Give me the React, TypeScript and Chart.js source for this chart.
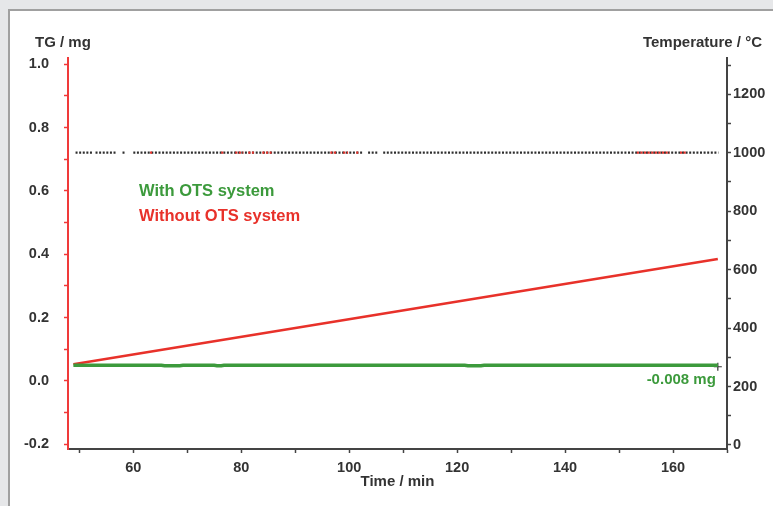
import React, { useEffect, useRef } from "react";
import { Chart, registerables } from "chart.js";

Chart.register(...registerables);

// Axis ranges
const timeMin = 47.9;
const timeMax = 170;
const tgMin = -0.2148;
const tgMax = 1.02;
const tempMin = -13.7;
const tempMax = 1324;

// Tick values
const tgTicks = [-0.2, -0.1, 0, 0.1, 0.2, 0.3, 0.4, 0.5, 0.6, 0.7, 0.8, 0.9, 1.0];
const tempTicks = [0, 100, 200, 300, 400, 500, 600, 700, 800, 900, 1000, 1100, 1200, 1300];
const timeTicks = [50, 60, 70, 80, 90, 100, 110, 120, 130, 140, 150, 160, 170];

// "Without OTS system" TG curve (mg)
const redTime = [48.9, 168.3];
const redTG = [0.0527, 0.385];

// "With OTS system" TG curve (mg)
const greenTime = [48.9, 65.2, 65.8, 68.6, 69.2, 75.0, 75.5, 76.3, 76.8, 121.4, 122.0, 124.4, 125.0, 168.3];
const greenTG = [0.0496, 0.0496, 0.0478, 0.0478, 0.0496, 0.0496, 0.048, 0.048, 0.0496, 0.0496, 0.0479, 0.0479, 0.0496, 0.0496];

// End marker of the green curve
const endMarkerTime = [168.3];
const endMarkerTG = [0.045];

// Temperature plateau (dotted) segments, °C level and time spans in min
const plateauTemp = 1000;
const blackDotSegments = [
  [49.3, 52.6],
  [53.0, 57.0],
  [58.0, 58.4],
  [60.0, 102.4],
  [103.5, 105.2],
  [106.3, 168.4],
];
const redDotSegments = [
  [63.1, 63.5],
  [76.3, 76.7],
  [78.9, 80.4],
  [81.3, 82.6],
  [83.9, 85.7],
  [96.5, 97.8],
  [98.9, 99.8],
  [101.3, 101.7],
  [153.3, 159.4],
  [161.3, 162.6],
];

const FONT = '"Liberation Sans", Arial, Helvetica, sans-serif';
const TEXT = "#333333";
const RED = "#e8312a";
const GREEN = "#3c9a3c";

function segmentsToData(segs: number[][], level: number) {
  const out: { x: number; y: number | null }[] = [];
  segs.forEach(([s, e]) => {
    out.push({ x: s, y: level });
    out.push({ x: e, y: level });
    out.push({ x: e + 0.01, y: null });
  });
  return out;
}

const textPlugin = {
  id: "customTexts",
  afterDraw(chart: any) {
    const ctx = chart.ctx as CanvasRenderingContext2D;
    const xs = chart.scales.x;
    const ys = chart.scales.y;
    const area = chart.chartArea;
    ctx.save();
    ctx.fillStyle = TEXT;
    ctx.textBaseline = "alphabetic";
    ctx.font = `bold 15px ${FONT}`;
    ctx.textAlign = "left";
    ctx.fillText("TG / mg", 35, 47);
    ctx.textAlign = "right";
    ctx.fillText("Temperature / °C", 762, 47);
    ctx.textAlign = "center";
    ctx.fillText("Time / min", (area.left + area.right) / 2, 486);

    ctx.font = `bold 16.5px ${FONT}`;
    ctx.textAlign = "left";
    ctx.fillStyle = GREEN;
    ctx.fillText("With OTS system", 139, 196);
    ctx.fillStyle = RED;
    ctx.fillText("Without OTS system", 139, 221);

    ctx.font = `bold 15px ${FONT}`;
    ctx.fillStyle = GREEN;
    ctx.textAlign = "right";
    const lx = xs.getPixelForValue(greenTime[greenTime.length - 1]);
    const ly = ys.getPixelForValue(greenTG[greenTG.length - 1]);
    ctx.fillText("-0.008 mg", lx - 2, ly + 19);
    ctx.restore();
  },
};

export default function App() {
  const ref = useRef<HTMLCanvasElement | null>(null);

  useEffect(() => {
    if (!ref.current) return;
    const tickFont = { family: FONT, size: 14.5, weight: "bold" as const };

    const chart = new Chart(ref.current, {
      type: "line",
      data: {
        datasets: [
          {
            label: "With OTS system",
            data: greenTime.map((t, i) => ({ x: t, y: greenTG[i] })),
            borderColor: GREEN,
            borderWidth: 3.5,
            pointRadius: 0,
            yAxisID: "y",
            tension: 0,
          },
          {
            label: "end",
            data: endMarkerTime.map((t, i) => ({ x: t, y: endMarkerTG[i] })),
            showLine: false,
            pointStyle: "cross",
            pointRadius: 4,
            borderColor: "#333",
            borderWidth: 1.2,
            yAxisID: "y",
          },
          {
            label: "Without OTS system",
            data: redTime.map((t, i) => ({ x: t, y: redTG[i] })),
            borderColor: RED,
            borderWidth: 2.6,
            pointRadius: 0,
            yAxisID: "y",
          },
          {
            label: "Temperature (red)",
            data: segmentsToData(redDotSegments, plateauTemp),
            borderColor: "#e8312a",
            borderWidth: 2.2,
            borderDash: [2, 1.6],
            pointRadius: 0,
            spanGaps: false,
            yAxisID: "y1",
          },
          {
            label: "Temperature",
            data: segmentsToData(blackDotSegments, plateauTemp),
            borderColor: "#2e2e2e",
            borderWidth: 2.2,
            borderDash: [2, 1.6],
            pointRadius: 0,
            spanGaps: false,
            yAxisID: "y1",
          },
        ],
      },
      options: {
        responsive: false,
        animation: false,
        devicePixelRatio: 1,
        layout: { padding: { top: 58, left: 0, right: 0, bottom: 0 } },
        plugins: {
          legend: { display: false },
          tooltip: { enabled: false },
        },
        scales: {
          x: {
            type: "linear",
            position: "bottom",
            min: timeMin,
            max: timeMax,
            afterBuildTicks: (axis: any) => {
              axis.ticks = timeTicks.map((v) => ({ value: v }));
            },
            afterFit: (s: any) => {
              s.height = 506 - 449;
            },
            grid: {
              display: true,
              drawOnChartArea: false,
              drawTicks: true,
              tickLength: 4,
              tickColor: "#444",
              tickWidth: 1.5,
            },
            border: { display: true, color: "#444", width: 2 },
            ticks: {
              autoSkip: false,
              maxRotation: 0,
              padding: 6,
              color: TEXT,
              font: tickFont,
              callback: (v: any) => (Math.round(v) % 20 === 0 ? String(Math.round(v)) : ""),
            },
          },
          y: {
            type: "linear",
            position: "left",
            min: tgMin,
            max: tgMax,
            afterBuildTicks: (axis: any) => {
              axis.ticks = tgTicks.map((v) => ({ value: v }));
            },
            afterFit: (s: any) => {
              s.width = 68;
            },
            grid: {
              display: true,
              drawOnChartArea: false,
              drawTicks: true,
              tickLength: 4,
              tickColor: "#f03a3a",
              tickWidth: 1.5,
            },
            border: { display: true, color: "#f03a3a", width: 2 },
            ticks: {
              autoSkip: false,
              padding: 15,
              color: TEXT,
              font: tickFont,
              callback: (v: any) => (Math.round(v * 10) % 2 === 0 ? Number(v).toFixed(1) : ""),
            },
          },
          y1: {
            type: "linear",
            position: "right",
            min: tempMin,
            max: tempMax,
            afterBuildTicks: (axis: any) => {
              axis.ticks = tempTicks.map((v) => ({ value: v }));
            },
            afterFit: (s: any) => {
              s.width = 773 - 727;
            },
            grid: {
              display: true,
              drawOnChartArea: false,
              drawTicks: true,
              tickLength: 4,
              tickColor: "#444",
              tickWidth: 1.5,
            },
            border: { display: true, color: "#444", width: 2 },
            ticks: {
              autoSkip: false,
              padding: 2,
              color: TEXT,
              font: tickFont,
              callback: (v: any) => (Math.round(v) % 200 === 0 ? String(Math.round(v)) : ""),
            },
          },
        },
      },
      plugins: [textPlugin],
    });
    return () => chart.destroy();
  }, []);

  return (
    <div>
      <div style={{ position: "fixed", left: 0, top: 0, width: 773, height: 506, background: "#e6e7e9" }} />
      <div
        style={{
          position: "fixed",
          left: 8,
          top: 9,
          width: 900,
          height: 700,
          border: "2px solid #a0a0a0",
          background: "#ffffff",
        }}
      />
      <canvas
        ref={ref}
        width={773}
        height={506}
        style={{ position: "fixed", left: 0, top: 0, width: 773, height: 506 }}
      />
    </div>
  );
}
